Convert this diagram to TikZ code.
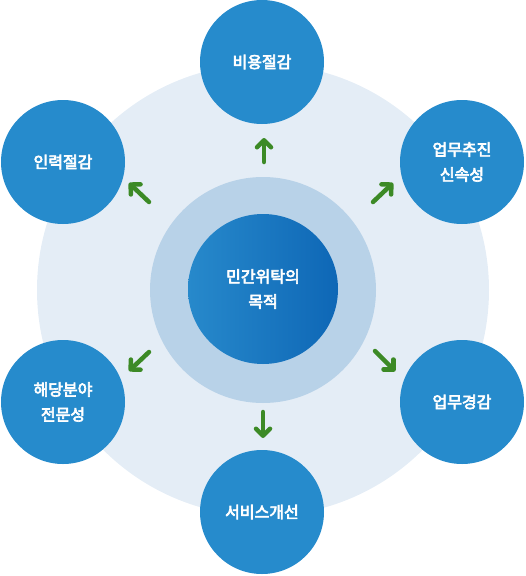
\documentclass[tikz,border=0pt]{standalone}
\usepackage{fontspec}
\newfontfamily\krb{Noto Sans CJK KR}[FakeBold=4]
\usetikzlibrary{arrows.meta}
\definecolor{bgc}{HTML}{E4EDF6}
\definecolor{ringc}{HTML}{B8D2E8}
\definecolor{outc}{HTML}{268BCC}
\definecolor{gl}{HTML}{2789CB}
\definecolor{gr}{HTML}{0E67B6}
\definecolor{arr}{HTML}{3C8A26}
\begin{document}
\begin{tikzpicture}[x=1pt,y=-1pt,
  item/.style={circle,fill=outc,minimum size=124pt,inner sep=0pt,text=white,
    font=\krb\fontsize{16}{25}\selectfont,align=center},
  garrow/.style={arr,line width=4.5pt,line cap=round,line join=round,
    -{Straight Barb[length=7pt,width=14pt,line cap=round,line join=round]}}]
\useasboundingbox (0,0) rectangle (526,576);
\node[circle,fill=bgc,minimum size=452pt,inner sep=0pt] (bg) at (263,290) {};
\node[circle,fill=ringc,minimum size=226pt,inner sep=0pt] (ring) at (263,290) {};
\node[circle,left color=gl,right color=gr,minimum size=150pt,inner sep=0pt,text=white,
  font=\krb\fontsize{16}{25}\selectfont,align=center] (c) at (263,289) {민간위탁의\\목적};
\node[item] (t) at (262,62) {비용절감};
\node[item] (tl) at (63,162) {인력절감};
\node[item] (tr) at (462,162) {업무추진\\신속성};
\node[item] (bl) at (63,402) {해당분야\\전문성};
\node[item] (br) at (462,402) {업무경감};
\node[item] (b) at (262,512) {서비스개선};
\coordinate (a1s) at (264,162); \coordinate (a1e) at (264,138);
\coordinate (a2s) at (149,202); \coordinate (a2e) at (129,183);
\coordinate (a3s) at (373,202); \coordinate (a3e) at (393,183);
\coordinate (a4s) at (149,352); \coordinate (a4e) at (129,371);
\coordinate (a5s) at (375,351); \coordinate (a5e) at (395,371);
\coordinate (a6s) at (263,412); \coordinate (a6e) at (263,438);
\draw[garrow] (a1s) -- (a1e);
\draw[garrow] (a2s) -- (a2e);
\draw[garrow] (a3s) -- (a3e);
\draw[garrow] (a4s) -- (a4e);
\draw[garrow] (a5s) -- (a5e);
\draw[garrow] (a6s) -- (a6e);
\end{tikzpicture}
\end{document}
